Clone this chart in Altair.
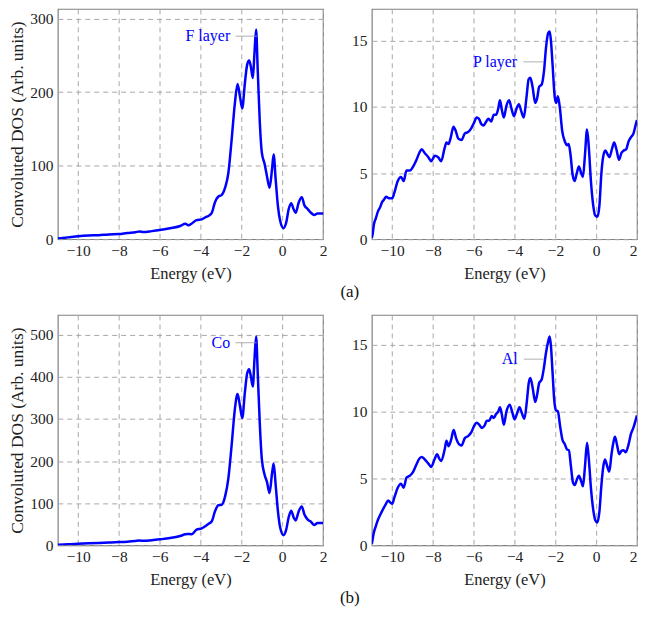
import altair as alt
import pandas as pd

# ---------------- data ----------------
F_E = [-11, -10.5, -10, -9.5, -9, -8.5, -8, -7.6, -7.2, -7.0,
       -6.8, -6.4, -6.0, -5.5, -5.0, -4.75, -4.6, -4.45, -4.2, -3.95,
       -3.75, -3.6, -3.45, -3.3, -3.13, -2.97, -2.8, -2.64, -2.48, -2.32,
       -2.19, -2.07, -1.96, -1.83, -1.72, -1.62, -1.54, -1.44, -1.36, -1.28,
       -1.2, -1.1, -1.0, -0.86, -0.75, -0.62, -0.5, -0.42, -0.32, -0.21,
       -0.1, 0.06, 0.19, 0.32, 0.44, 0.57, 0.66, 0.81, 0.96, 1.09,
       1.25, 1.41, 1.57, 1.73, 2.0]
F_dos = [1, 2.5, 4, 5, 5.5, 6.5, 7, 8.5, 9.5, 10.5,
         9.8, 11, 12.5, 15, 18, 21, 19, 21, 26, 27,
         30, 32, 36, 50, 58, 60, 70, 90, 135, 185,
         211, 194, 178, 212, 237, 243, 235, 219, 253, 285,
         230, 160, 118, 102, 86, 70, 95, 115, 81, 45,
         25, 15, 22, 41, 49, 40, 36, 50, 57, 46,
         41, 36, 33, 35, 35]

Co_E = F_E
Co_dos = [1, 2.5, 3.5, 4.5, 5.5, 6.5, 7.5, 8.5, 10, 11,
          10.5, 12, 14, 17, 22, 26, 27, 26, 37, 40,
          46, 51, 57, 80, 95, 96, 116, 159, 237, 324,
          359, 331, 302, 363, 408, 418, 402, 377, 441, 496,
          410, 290, 205, 167, 151, 124, 170, 194, 143, 81,
          42, 24, 36, 67, 82, 65, 59, 81, 92, 73,
          61, 56, 48, 53, 53]

P_E = [-11, -10.96, -10.9, -10.8, -10.7, -10.6, -10.5, -10.4, -10.3, -10.16,
       -10.0, -9.9, -9.73, -9.57, -9.44, -9.3, -9.13, -8.97, -8.81, -8.68,
       -8.56, -8.4, -8.23, -8.09, -7.91, -7.75, -7.6, -7.43, -7.34, -7.24,
       -7.13, -7.0, -6.89, -6.76, -6.6, -6.44, -6.28, -6.12, -5.99, -5.86,
       -5.75, -5.63, -5.52, -5.39, -5.28, -5.15, -5.02, -4.91, -4.8, -4.72,
       -4.63, -4.53, -4.4, -4.27, -4.16, -4.03, -3.9, -3.79, -3.68, -3.55,
       -3.42, -3.31, -3.23, -3.12, -2.99, -2.89, -2.8, -2.67, -2.56, -2.46,
       -2.35, -2.28, -2.22, -2.14, -2.03, -1.96, -1.88, -1.78, -1.67, -1.54,
       -1.43, -1.35, -1.26, -1.16, -1.06, -0.95, -0.85, -0.74, -0.65, -0.55,
       -0.45, -0.36, -0.26, -0.15, -0.05, 0.06, 0.16, 0.25, 0.35, 0.45,
       0.56, 0.65, 0.77, 0.88, 0.99, 1.12, 1.23, 1.35, 1.47, 1.59,
       1.7, 1.83, 1.96, 2.0]
P_dos = [0.1, 0.4, 1.1, 1.6, 2.1, 2.4, 2.8, 3.0, 3.2, 3.1,
         3.1, 3.5, 4.4, 4.7, 4.4, 5.2, 5.2, 5.5, 6.0, 6.5,
         6.8, 6.5, 6.2, 5.9, 6.3, 6.2, 5.9, 6.9, 7.3, 7.2,
         7.7, 8.5, 8.2, 7.6, 7.5, 8.0, 8.1, 8.4, 8.8, 9.2,
         9.1, 8.7, 8.6, 8.9, 9.1, 8.9, 9.4, 9.4, 9.9, 10.5,
         9.8, 9.2, 10.1, 10.5, 9.9, 9.3, 9.9, 10.2, 9.7, 9.2,
         10.7, 12.1, 12.2, 11.5, 10.3, 10.7, 11.5, 11.7, 12.7, 14.5,
         15.6, 15.7, 15.0, 13.2, 10.7, 10.3, 10.8, 9.9, 8.2, 7.4,
         7.1, 7.2, 6.4, 4.9, 4.4, 5.0, 5.5, 5.0, 4.7, 6.4,
         8.3, 6.9, 4.4, 2.6, 1.8, 1.7, 2.6, 4.9, 6.3, 6.7,
         6.4, 6.2, 6.8, 7.3, 6.8, 6.0, 6.5, 6.7, 6.8, 7.4,
         7.7, 8.0, 8.8, 9.0]

Al_E = [-11, -10.9, -10.8, -10.7, -10.58, -10.45, -10.32, -10.2, -10.1, -10.0,
        -9.9, -9.73, -9.57, -9.44, -9.3, -9.13, -8.97, -8.81, -8.68, -8.56,
        -8.4, -8.23, -8.09, -7.93, -7.8, -7.69, -7.6, -7.43, -7.34, -7.24,
        -7.11, -6.99, -6.87, -6.73, -6.6, -6.44, -6.28, -6.12, -5.99, -5.86,
        -5.73, -5.6, -5.47, -5.36, -5.25, -5.12, -5.02, -4.91, -4.8, -4.72,
        -4.63, -4.53, -4.4, -4.24, -4.11, -4.0, -3.87, -3.76, -3.63, -3.52,
        -3.39, -3.31, -3.23, -3.12, -2.99, -2.89, -2.8, -2.67, -2.56, -2.46,
        -2.35, -2.28, -2.22, -2.14, -2.06, -1.98, -1.88, -1.77, -1.66, -1.54,
        -1.43, -1.34, -1.24, -1.14, -1.05, -0.95, -0.85, -0.74, -0.65, -0.55,
        -0.45, -0.36, -0.26, -0.15, -0.05, 0.05, 0.16, 0.25, 0.35, 0.43,
        0.54, 0.64, 0.75, 0.86, 0.92, 1.02, 1.13, 1.24, 1.34, 1.45,
        1.59, 1.7, 1.83, 1.96, 2.0]
Al_dos = [0.1, 0.95, 1.45, 1.9, 2.3, 2.7, 3.05, 3.35, 3.2, 3.1,
          3.55, 4.3, 4.6, 4.3, 5.05, 5.2, 5.5, 6.05, 6.45, 6.6,
          6.4, 6.1, 5.85, 6.4, 6.8, 6.45, 6.3, 7.15, 7.8, 7.4,
          7.9, 8.6, 8.0, 7.55, 7.45, 8.0, 8.15, 8.45, 8.9, 9.15,
          9.0, 8.75, 8.95, 9.3, 9.3, 9.65, 9.5, 9.8, 10.0, 10.3,
          9.8, 9.0, 10.0, 10.5, 9.9, 9.4, 9.9, 10.3, 9.8, 9.45,
          10.9, 12.1, 12.5, 11.8, 10.7, 11.3, 12.1, 12.4, 13.3, 14.4,
          15.25, 15.6, 14.9, 12.9, 10.9, 10.1, 10.0, 8.9, 7.9, 7.55,
          7.15, 7.1, 5.9, 4.7, 4.5, 4.9, 5.2, 4.8, 4.4, 5.9,
          7.65, 6.4, 4.3, 2.7, 1.9, 1.7, 2.55, 4.4, 5.9, 6.4,
          5.9, 5.5, 6.8, 7.8, 8.1, 7.5, 6.8, 7.05, 7.1, 6.95,
          7.55, 8.3, 8.8, 9.5, 9.7]

# annotation pins: label, text anchor energy, pin line start/end energy, height
LABELS = ["F layer", "P layer", "Co", "Al"]
LABEL_E = [-2.55, -3.88, -2.55, -3.85]
PIN_E1 = [-2.29, -3.57, -2.29, -3.55]
PIN_E2 = [-1.22, -2.55, -1.25, -2.55]
PIN_Y = [276, 13.4, 481, 13.9]

Y_MAX = [313, 17.4, 547, 17.2]
Y_TICKS = [[0, 100, 200, 300], [0, 5, 10, 15],
           [0, 100, 200, 300, 400, 500], [0, 5, 10, 15]]
X_TICKS = [-10, -8, -6, -4, -2, 0, 2]

SERIF = "Liberation Serif, Times New Roman, serif"
BLUE = "#0000ff"
W, H = 266, 231


def panel(i, E, dos, ytitle, flush):
    df = pd.DataFrame({"E": E, "dos": dos})
    x = alt.X("E:Q", scale=alt.Scale(domain=[-11, 2], nice=False),
              axis=alt.Axis(values=X_TICKS, format="d", title="Energy (eV)",
                            labelFlush=flush))
    y = alt.Y("dos:Q", scale=alt.Scale(domain=[0, Y_MAX[i]], nice=False),
              axis=alt.Axis(values=Y_TICKS[i], format="d",
                            title=ytitle if ytitle else None))
    line = alt.Chart(df).mark_line(color=BLUE, strokeWidth=2.5,
                                   interpolate="monotone", clip=True).encode(x=x, y=y)
    ann = pd.DataFrame({"lab": [LABELS[i]], "le": [LABEL_E[i]],
                        "e1": [PIN_E1[i]], "e2": [PIN_E2[i]], "py": [PIN_Y[i]]})
    pin = alt.Chart(ann).mark_rule(color="#9a9a9a", strokeWidth=0.8).encode(
        x="e1:Q", x2="e2:Q", y="py:Q")
    txt = alt.Chart(ann).mark_text(align="right", baseline="middle", color=BLUE,
                                   font=SERIF, fontSize=16).encode(
        x="le:Q", y="py:Q", text="lab:N")
    return alt.layer(line, pin, txt).properties(width=W, height=H)


def row(label, a, b, off):
    return alt.hconcat(a, b, spacing=49, bounds="flush").properties(
        title=alt.TitleParams(label, orient="bottom", anchor="middle",
                              fontSize=17, font=SERIF, fontWeight="normal",
                              color="#111", offset=off, dx=27))


row_a = row("(a)", panel(0, F_E, F_dos, "Convoluted DOS (Arb. units)", False),
            panel(1, P_E, P_dos, "", True), 1)
row_b = row("(b)", panel(2, Co_E, Co_dos, "Convoluted DOS (Arb. units)", False),
            panel(3, Al_E, Al_dos, "", True), 1)

chart = alt.vconcat(row_a, row_b, spacing=14).properties(
    padding={"left": 0, "top": -1, "right": 0, "bottom": 0}
).configure_view(stroke="#808080", strokeWidth=1.2).configure_axis(
    grid=True, gridColor="#a8a8a8", gridDash=[5, 4], gridWidth=1,
    domain=False, ticks=False,
    labelFont=SERIF, labelFontSize=15.5, labelColor="#222",
    titleFont=SERIF, titleFontWeight="normal", titleColor="#222",
).configure_axisX(labelPadding=4, titlePadding=7, titleFontSize=16.5).configure_axisY(
    labelPadding=5, titlePadding=3, titleFontSize=17.5)

chart.save("out.html", embed_options={"renderer": "svg", "actions": False})
